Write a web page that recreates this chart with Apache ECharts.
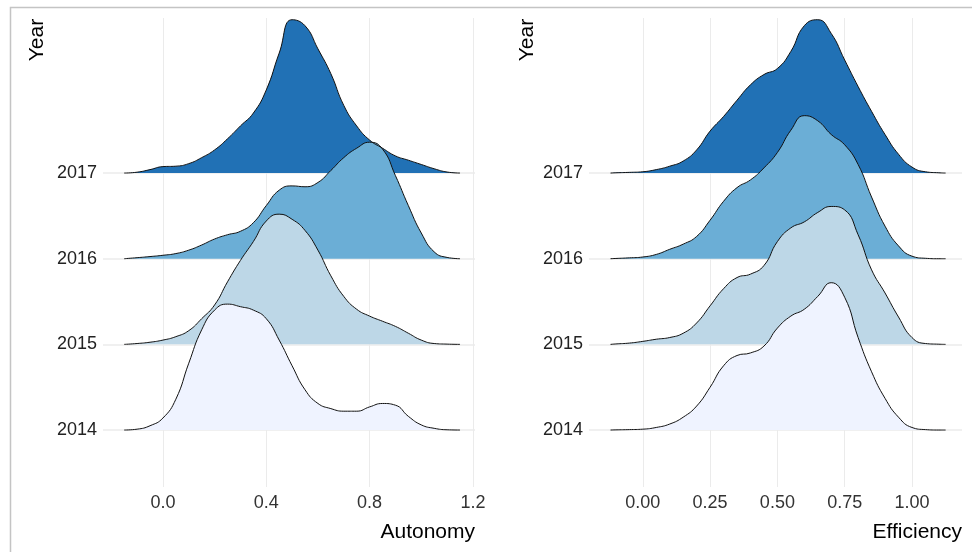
<!DOCTYPE html>
<html>
<head>
<meta charset="utf-8">
<script src="https://cdn.jsdelivr.net/npm/echarts@6/dist/echarts.min.js"></script>
<style>
  html, body { margin: 0; padding: 0; background: #fff; }
  #chart { width: 972px; height: 552px; }
</style>
</head>
<body>
<div id="chart"></div>
<script>
// ridge rows, bottom to top
const years = ['2014', '2015', '2016', '2017']
const palette = ['#eff3ff', '#bdd7e7', '#6baed6', '#2171b5']

// Autonomy panel: sample points and ridge heights (in row units)
const autonomyX = [-0.15, -0.10, -0.05, 0.00, 0.05, 0.10, 0.15, 0.20, 0.25, 0.30, 0.35, 0.40, 0.45,
  0.50, 0.55, 0.60, 0.65, 0.70, 0.75, 0.80, 0.85, 0.90, 0.95, 1.00, 1.05, 1.10, 1.15]
const autonomy2014 = [0, 0.01, 0.05, 0.14, 0.36, 0.78, 1.17, 1.40, 1.47, 1.44, 1.40, 1.30, 1.05,
  0.75, 0.47, 0.31, 0.25, 0.22, 0.22, 0.27, 0.31, 0.29, 0.16, 0.06, 0.02, 0.003, 0]
const autonomy2015 = [0, 0.01, 0.025, 0.05, 0.09, 0.16, 0.30, 0.46, 0.73, 0.98, 1.20, 1.44, 1.52,
  1.46, 1.33, 1.10, 0.80, 0.56, 0.41, 0.33, 0.27, 0.21, 0.13, 0.05, 0.01, 0.003, 0]
const autonomy2016 = [0, 0.012, 0.025, 0.04, 0.06, 0.10, 0.16, 0.23, 0.28, 0.32, 0.42, 0.62, 0.80,
  0.85, 0.84, 0.89, 1.03, 1.18, 1.29, 1.36, 1.28, 0.97, 0.62, 0.30, 0.08, 0.015, 0]
const autonomy2017 = [0, 0.01, 0.04, 0.075, 0.08, 0.11, 0.18, 0.27, 0.40, 0.55, 0.70, 0.97, 1.40,
  1.79, 1.72, 1.45, 1.16, 0.79, 0.55, 0.385, 0.29, 0.20, 0.15, 0.10, 0.05, 0.012, 0]

// Efficiency panel
const efficiencyX = [-0.12, -0.10, -0.05, 0.00, 0.05, 0.10, 0.15, 0.20, 0.25, 0.30, 0.35, 0.40, 0.45,
  0.50, 0.55, 0.60, 0.65, 0.70, 0.75, 0.80, 0.85, 0.90, 0.95, 1.00, 1.05, 1.10, 1.125]
const efficiency2014 = [0, 0.002, 0.005, 0.01, 0.03, 0.07, 0.15, 0.28, 0.50, 0.75, 0.87, 0.90, 0.98,
  1.19, 1.33, 1.41, 1.56, 1.72, 1.55, 1.08, 0.68, 0.37, 0.15, 0.03, 0.005, 0, 0]
const efficiency2015 = [0, 0.005, 0.015, 0.035, 0.06, 0.08, 0.13, 0.25, 0.45, 0.65, 0.78, 0.82, 0.92,
  1.20, 1.36, 1.43, 1.54, 1.61, 1.57, 1.28, 0.87, 0.60, 0.32, 0.08, 0.01, 0.002, 0]
const efficiency2016 = [0, 0.003, 0.01, 0.02, 0.05, 0.11, 0.17, 0.26, 0.45, 0.67, 0.83, 0.92, 1.06,
  1.24, 1.50, 1.67, 1.61, 1.45, 1.33, 1.10, 0.72, 0.38, 0.15, 0.03, 0.005, 0, 0]
const efficiency2017 = [0, 0.003, 0.008, 0.015, 0.04, 0.08, 0.14, 0.27, 0.49, 0.66, 0.85, 1.03, 1.15,
  1.22, 1.42, 1.72, 1.79, 1.63, 1.32, 1.01, 0.72, 0.45, 0.22, 0.07, 0.015, 0.003, 0]

const autonomyTicks = [0, 0.4, 0.8, 1.2]
const efficiencyTicks = [0, 0.25, 0.5, 0.75, 1.0]

const font = "'Liberation Sans', Arial, sans-serif"
const rowValues = [1, 2, 3, 4]

function ridgeSeries(xs, rows, axisIndex) {
  const out = []
  // top row first so the lower ridges overlap it
  for (let i = rows.length - 1; i >= 0; i--) {
    const base = i + 1
    out.push({
      type: 'line',
      xAxisIndex: axisIndex,
      yAxisIndex: axisIndex,
      data: xs.map((x, k) => [x, base + rows[i][k]]),
      smooth: 0.5,
      showSymbol: false,
      silent: true,
      lineStyle: { color: '#111', width: 1 },
      areaStyle: { color: palette[i], opacity: 1, origin: base }
    })
  }
  return out
}

function xAxis(grid, min, max, ticks, digits, name) {
  return {
    type: 'value',
    gridIndex: grid,
    min: min,
    max: max,
    axisLine: { show: false },
    axisTick: { show: false, customValues: ticks },
    splitLine: { show: true, lineStyle: { color: '#ebebeb', width: 1 } },
    axisLabel: {
      customValues: ticks,
      formatter: v => Number(v).toFixed(digits),
      color: '#333',
      fontSize: 18,
      fontFamily: font,
      margin: 7
    },
    name: name,
    nameLocation: 'end',
    nameGap: 0,
    nameTextStyle: {
      align: 'right',
      verticalAlign: 'top',
      padding: [35, 0, 0, 0],
      color: '#000',
      fontSize: 21,
      fontFamily: font
    }
  }
}

function yAxis(grid) {
  return {
    type: 'value',
    gridIndex: grid,
    min: 0.335,
    max: 5.81,
    axisLine: { show: false },
    axisTick: { show: false, customValues: rowValues },
    splitLine: { show: true, lineStyle: { color: '#ebebeb', width: 1.5 } },
    axisLabel: {
      customValues: rowValues,
      formatter: v => years[Math.round(v) - 1],
      color: '#222',
      fontSize: 18,
      fontFamily: font,
      margin: 6
    }
  }
}

const chart = echarts.init(document.getElementById('chart'), null, { renderer: 'canvas' })
chart.setOption({
  animation: false,
  backgroundColor: '#fff',
  grid: [
    { left: 103, right: 497, top: 18, bottom: 65 },
    { left: 589, right: 10, top: 18, bottom: 65 }
  ],
  xAxis: [
    xAxis(0, -0.232, 1.208, autonomyTicks, 1, 'Autonomy'),
    xAxis(1, -0.2, 1.186, efficiencyTicks, 2, 'Efficiency')
  ],
  yAxis: [yAxis(0), yAxis(1)],
  graphic: [
    {
      type: 'rect',
      silent: true,
      shape: { x: 10.5, y: 7.5, width: 1000, height: 600 },
      style: { fill: 'none', stroke: '#c4c4c4', lineWidth: 1.5 }
    },
    {
      type: 'text', x: 37, y: 40, rotation: Math.PI / 2, silent: true,
      style: { text: 'Year', fontSize: 21, fontFamily: font, fill: '#000', align: 'center', verticalAlign: 'middle' }
    },
    {
      type: 'text', x: 527, y: 40, rotation: Math.PI / 2, silent: true,
      style: { text: 'Year', fontSize: 21, fontFamily: font, fill: '#000', align: 'center', verticalAlign: 'middle' }
    }
  ],
  series: [
    ...ridgeSeries(autonomyX, [autonomy2014, autonomy2015, autonomy2016, autonomy2017], 0),
    ...ridgeSeries(efficiencyX, [efficiency2014, efficiency2015, efficiency2016, efficiency2017], 1)
  ]
})
</script>
</body>
</html>
